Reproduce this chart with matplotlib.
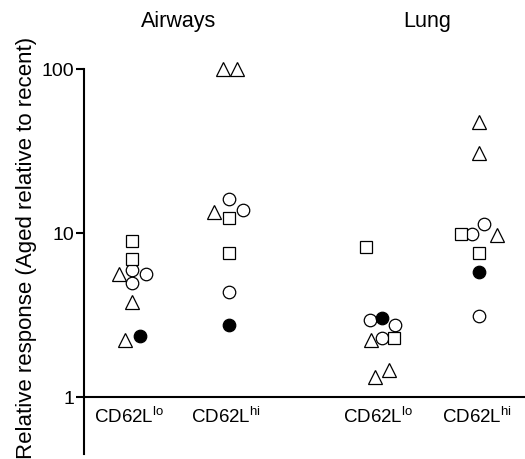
import matplotlib
matplotlib.use("Agg")
import matplotlib.pyplot as plt

plt.rcParams['font.family'] = ['Liberation Sans', 'DejaVu Sans']
plt.rcParams['mathtext.fontset'] = 'custom'
plt.rcParams['mathtext.rm'] = 'Liberation Sans'
plt.rcParams['mathtext.it'] = 'Liberation Sans'
plt.rcParams['mathtext.bf'] = 'Liberation Sans'

# categories
groups = ["Airways", "Lung"]
subsets = ["CD62L$^{\\mathrm{lo}}$", "CD62L$^{\\mathrm{hi}}$", "CD62L$^{\\mathrm{lo}}$", "CD62L$^{\\mathrm{hi}}$"]
ylabel = "Relative response (Aged relative to recent)"
yticks = [1, 10, 100]
ytick_labels = ['1', '10', '100']

# values per symbol, per category (Airways lo, Airways hi, Lung lo, Lung hi)
tri_vals = [[5.6, 3.8, 2.23], [100, 100, 13.4], [2.23, 1.32, 1.46], [47.5, 30.7, 9.7]]
circ_vals = [[5.95, 5.62, 4.96], [16.1, 13.8, 4.37], [2.95, 2.75, 2.29], [11.3, 9.86, 3.12]]
sq_vals = [[8.94, 6.94], [12.3, 7.55], [8.2, 2.29], [9.86, 7.55]]
fill_vals = [[2.35], [2.75], [3.03], [5.78]]

# layout: category centres and horizontal jitter (axis units)
centers = [0.49, 1.45, 2.98, 3.95]
label_pos = [0.455, 1.42, 2.94, 3.93]
tri_off = [[-0.14, -0.01, -0.08], [-0.06, 0.08, -0.15], [-0.11, -0.07, 0.07], [0.0, 0.0, 0.18]]
circ_off = [[-0.01, 0.13, -0.01], [0.0, 0.14, 0.0], [-0.12, 0.13, 0.0], [0.05, -0.07, 0.0]]
sq_off = [[-0.01, -0.01], [0.0, 0.0], [-0.16, 0.12], [-0.18, 0.0]]
fill_off = [[0.07], [0.0], [0.0], [0.0]]

fig = plt.figure(figsize=(5.25, 4.6), dpi=100)
ax = fig.add_axes([84 / 525, 5 / 460, 1 - 84 / 525, (455 - 70) / 460])
ax.set_yscale('log')
ax.set_ylim(0.449, 100)
ax.set_xlim(0, 4.41)

def draw(vals, offs, marker, ms, face):
    for c, vs, os_ in zip(centers, vals, offs):
        xs = [c + o for o in os_]
        ax.plot(xs, vs, linestyle='none', marker=marker, ms=ms,
                mfc=face, mec='black', mew=0.9, clip_on=False)

draw(tri_vals, tri_off, '^', 10, 'white')
draw(circ_vals, circ_off, 'o', 9, 'white')
draw(sq_vals, sq_off, 's', 8, 'white')
draw(fill_vals, fill_off, 'o', 9, 'black')

for s in ['top', 'right']:
    ax.spines[s].set_visible(False)
ax.spines['bottom'].set_position(('data', 1))
ax.spines['left'].set_linewidth(1.5)
ax.spines['bottom'].set_linewidth(1.5)
ax.spines['left'].set_bounds(0.449, 100)

ax.set_yticks(yticks)
ax.set_yticklabels(ytick_labels)
ax.yaxis.set_minor_locator(matplotlib.ticker.NullLocator())
ax.tick_params(axis='y', length=6, width=1.5, labelsize=14, pad=1)

ax.set_xticks(label_pos)
ax.set_xticklabels(subsets)
ax.tick_params(axis='x', length=0, labelsize=13.5, pad=6.5)

fig.text(178.5 / 525, 1 - 27 / 460, groups[0], ha='center', va='baseline', fontsize=15.5)
fig.text(427.5 / 525, 1 - 27 / 460, groups[1], ha='center', va='baseline', fontsize=15.5)
fig.text(27 / 525, 1 - 247.5 / 460, ylabel,
         rotation=90, ha='center', va='center', fontsize=16)

fig.savefig("out.png", dpi=100)
